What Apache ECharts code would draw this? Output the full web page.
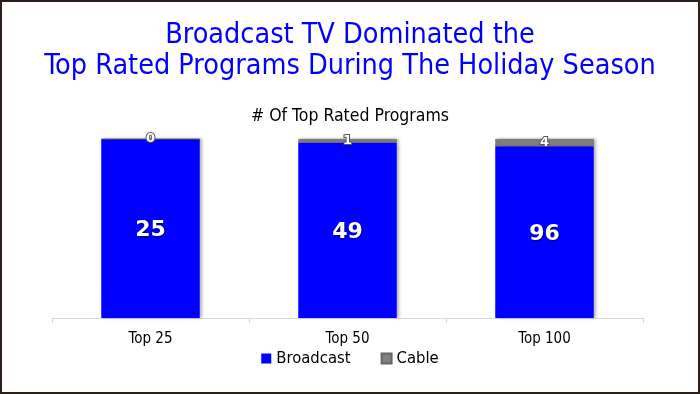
<!DOCTYPE html>
<html><head><meta charset="utf-8">
<script src="https://cdn.jsdelivr.net/npm/echarts@6/dist/echarts.min.js"></script>
<style>
html,body{margin:0;padding:0;background:#fff;}
#c{width:700px;height:394px;box-sizing:border-box;border:2px solid #2b1f17;}
</style></head>
<body><div id="c"></div>
<script>
const categories = ['Top 25', 'Top 50', 'Top 100'];
const broadcast = [25, 49, 96];
const cable = [0, 1, 4];
const seriesNames = ['Broadcast', 'Cable'];

const totals = categories.map((_, i) => broadcast[i] + cable[i]);
const pct = (arr) => arr.map((v, i) => ({ value: v / totals[i] * 100, raw: v }));

const chart = echarts.init(document.getElementById('c'), null, { renderer: 'canvas' });
chart.setOption({
  animation: false,
  title: [
    { text: 'Broadcast TV Dominated the\nTop Rated Programs During The Holiday Season', left: 'center', top: 13,
      textStyle: { color: '#0000ff', fontSize: 28.5, fontWeight: 'normal', fontFamily: 'DejaVu Sans Condensed', lineHeight: 31 } },
    { text: '# Of Top Rated Programs', left: 'center', top: 100,
      textStyle: { color: '#000', fontSize: 17.5, fontWeight: 'normal', fontFamily: 'DejaVu Sans Condensed' } }
  ],
  legend: {
    bottom: 20, left: 'center', itemWidth: 10, itemHeight: 10, itemGap: 30,
    icon: 'rect',
    textStyle: { fontSize: 16.5, color: '#000', fontFamily: 'DejaVu Sans Condensed' },
    data: seriesNames
  },
  grid: { left: 50, right: 55, top: 137, bottom: 74 },
  xAxis: {
    type: 'category', data: categories,
    axisLine: { lineStyle: { color: '#d9d9d9' } },
    axisTick: { show: true, lineStyle: { color: '#d9d9d9' } },
    axisLabel: { color: '#000', fontSize: 15, margin: 14, fontFamily: 'DejaVu Sans Condensed' }
  },
  yAxis: { type: 'value', min: 0, max: 100, show: false, splitLine: { show: false } },
  series: [
    { name: seriesNames[0], type: 'bar', stack: 's', barWidth: '50%', data: pct(broadcast),
      itemStyle: { color: '#0000ff', shadowColor: 'rgba(0,0,0,0.3)', shadowBlur: 3, shadowOffsetX: 2 },
      label: { show: true, position: 'inside', offset: [0, 2], formatter: p => p.data.raw, color: '#fff', fontSize: 22, fontWeight: 'bold',
        fontFamily: 'DejaVu Sans', textShadowColor: 'rgba(0,0,0,0.6)', textShadowBlur: 2, textShadowOffsetX: 1, textShadowOffsetY: 1 } },
    { name: seriesNames[1], type: 'bar', stack: 's', barWidth: '50%', data: pct(cable),
      itemStyle: { color: '#808080', borderColor: '#666', borderWidth: 0.5, shadowColor: 'rgba(0,0,0,0.3)', shadowBlur: 3, shadowOffsetX: 2 },
      label: { show: true, position: 'inside', formatter: p => p.data.raw, color: '#fff', fontSize: 13, fontWeight: 'bold',
        fontFamily: 'DejaVu Sans', textBorderColor: '#555', textBorderWidth: 2 } }
  ]
});
</script></body></html>
